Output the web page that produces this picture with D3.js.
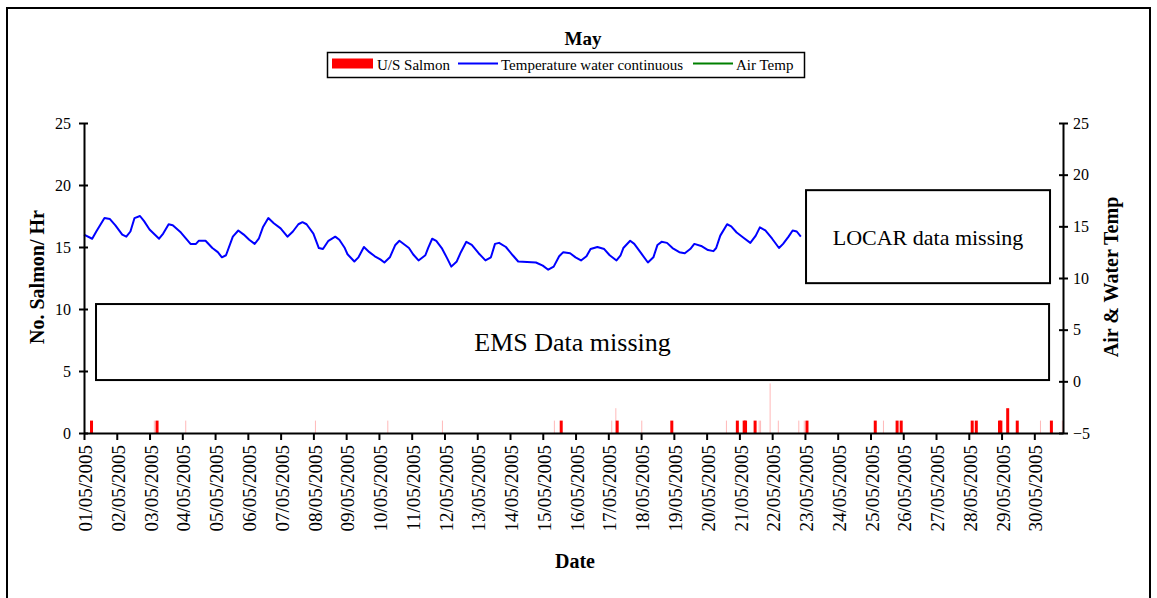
<!DOCTYPE html>
<html>
<head>
<meta charset="utf-8">
<script src="https://cdn.jsdelivr.net/npm/d3@7"></script>
<style>
  body { margin: 0; background: #fff; }
  svg { display: block; }
  text { font-family: "Liberation Serif", "Times New Roman", serif; fill: #000; }
</style>
</head>
<body>
<svg id="chart" width="1157" height="598"></svg>
<script>
// Daily tick labels along the date axis
const dayLabels = [
  "01/05/2005","02/05/2005","03/05/2005","04/05/2005","05/05/2005","06/05/2005",
  "07/05/2005","08/05/2005","09/05/2005","10/05/2005","11/05/2005","12/05/2005",
  "13/05/2005","14/05/2005","15/05/2005","16/05/2005","17/05/2005","18/05/2005",
  "19/05/2005","20/05/2005","21/05/2005","22/05/2005","23/05/2005","24/05/2005",
  "25/05/2005","26/05/2005","27/05/2005","28/05/2005","29/05/2005","30/05/2005"
];
const leftTicks = [0, 5, 10, 15, 20, 25];
const rightTicks = [-5, 0, 5, 10, 15, 20, 25];
const legendNames = ["U/S Salmon", "Temperature water continuous", "Air Temp"];

// Upstream salmon counts: hour of month (from 01/05 00:00) and fish per hour
const salmonHours  = [5, 53, 349, 390, 430, 478, 483, 484, 491, 529, 579, 595, 598, 650, 653, 670, 671, 676, 683, 708];
const salmonCounts = [1, 1,  1,   1,   1,   1,   1,   1,   1,   1,   1,   1,   1,   1,   1,   1,   1,   2,   1,   1];

// Single-hour counts that only show as hairlines at this scale
const hairHours  = [51, 74, 169, 222, 262, 344, 386, 389, 408, 470, 494, 495, 502, 508, 523, 527, 585, 700, 716];
const hairCounts = [1,  1,  1,   1,   1,   1,   1,   2,   1,   1,   1,   1,   4,   1,   1,   1,   1,   1,   1];

// Continuous water temperature (°C), sampled at the given hour of month
const waterHours = [
  0, 6, 9, 15, 19, 23, 28, 31, 34, 37, 41, 44, 48, 55, 58, 62, 65, 71, 78, 82,
  84, 89, 94, 98, 101, 104, 109, 113, 117, 121, 125, 128, 131, 135, 139, 144, 149, 153, 157, 160,
  163, 168, 172, 175, 179, 184, 187, 191, 193, 198, 201, 205, 209, 213, 217, 220, 224, 228, 231, 238,
  241, 245, 250, 252, 255, 258, 262, 266, 269, 273, 276, 280, 284, 289, 294, 298, 301, 304, 309, 314,
  318, 331, 336, 340, 344, 348, 351, 356, 360, 364, 368, 371, 376, 381, 385, 390, 393, 395, 400, 403,
  408, 413, 417, 420, 423, 427, 431, 436, 440, 444, 447, 452, 457, 461, 463, 466, 471, 474, 478, 483,
  488, 492, 495, 499, 504, 509, 512, 516, 519, 522, 525
];
const waterTemp = [
  14.2, 13.8, 14.5, 15.8, 15.7, 15.1, 14.2, 14.0, 14.5, 15.8, 16.0, 15.5, 14.7, 13.8, 14.3, 15.2, 15.1, 14.4, 13.3, 13.3,
  13.6, 13.6, 12.9, 12.5, 12.0, 12.2, 14.0, 14.6, 14.2, 13.7, 13.3, 13.8, 14.9, 15.8, 15.3, 14.8, 14.0, 14.5, 15.2, 15.4,
  15.2, 14.3, 12.9, 12.8, 13.6, 14.0, 13.7, 12.9, 12.3, 11.6, 12.0, 13.0, 12.5, 12.1, 11.8, 11.5, 12.0, 13.2, 13.6, 12.9,
  12.3, 11.7, 12.2, 12.9, 13.8, 13.6, 12.9, 11.9, 11.1, 11.6, 12.5, 13.5, 13.2, 12.4, 11.7, 12.0, 13.3, 13.4, 13.0, 12.2,
  11.6, 11.5, 11.2, 10.8, 11.1, 12.1, 12.5, 12.4, 12.0, 11.7, 12.1, 12.8, 13.0, 12.8, 12.2, 11.7, 12.2, 12.9, 13.6, 13.3,
  12.4, 11.5, 12.0, 13.2, 13.5, 13.4, 12.9, 12.5, 12.4, 12.8, 13.3, 13.1, 12.7, 12.6, 12.9, 14.1, 15.2, 15.0, 14.4, 13.9,
  13.4, 14.1, 14.9, 14.6, 13.8, 12.9, 13.3, 14.0, 14.6, 14.5, 14.0
];

// Air temperature series (no readings for this month)
const airHours = [];
const airTemp = [];

const svg = d3.select("#chart");

// Scales: hours across the month, fish counts on the left, temperature on the right
const x = d3.scaleLinear().domain([0, 717]).range([84, 1063]);
const yL = d3.scaleLinear().domain([0, 25]).range([433, 123]);
const yR = d3.scaleLinear().domain([-5, 25]).range([433, 123]);

// Outer frame
svg.append("rect")
  .attr("x", 7).attr("y", 8).attr("width", 1143).attr("height", 600)
  .attr("fill", "none").attr("stroke", "#000").attr("stroke-width", 2);

// Title
svg.append("text")
  .attr("x", 583).attr("y", 45)
  .attr("text-anchor", "middle")
  .attr("font-size", 19).attr("font-weight", "bold")
  .text("May");

// Legend
const legend = svg.append("g");
legend.append("rect")
  .attr("x", 327.5).attr("y", 52.5).attr("width", 477).attr("height", 25)
  .attr("fill", "#fff").attr("stroke", "#000").attr("stroke-width", 1.5);
const legendX = [332, 458, 693];
const legendColors = ["#ff0000", "#0000ff", "#008000"];
legendNames.forEach((name, i) => {
  if (i === 0) {
    legend.append("rect").attr("x", legendX[i]).attr("y", 58.5)
      .attr("width", 41).attr("height", 10).attr("fill", legendColors[i]);
  } else {
    legend.append("line").attr("x1", legendX[i]).attr("x2", legendX[i] + 40)
      .attr("y1", 63.5).attr("y2", 63.5)
      .attr("stroke", legendColors[i]).attr("stroke-width", 2);
  }
  legend.append("text")
    .attr("x", legendX[i] + (i === 0 ? 45 : 43)).attr("y", 70)
    .attr("font-size", 15)
    .text(name);
});

// Missing-data annotation boxes
const ems = { h0: 8.8, h1: 706.8, v0: 4.27, v1: 10.4 };
svg.append("rect")
  .attr("x", x(ems.h0)).attr("y", yL(ems.v1))
  .attr("width", x(ems.h1) - x(ems.h0)).attr("height", yL(ems.v0) - yL(ems.v1))
  .attr("fill", "#fff").attr("stroke", "#000").attr("stroke-width", 2);
svg.append("text")
  .attr("x", (x(ems.h0) + x(ems.h1)) / 2).attr("y", (yL(ems.v0) + yL(ems.v1)) / 2 + 9)
  .attr("text-anchor", "middle").attr("font-size", 26)
  .text("EMS Data missing");

const locar = { h0: 528.8, h1: 707.5, v0: 9.5, v1: 18.5 };
svg.append("rect")
  .attr("x", x(locar.h0)).attr("y", yR(locar.v1))
  .attr("width", x(locar.h1) - x(locar.h0)).attr("height", yR(locar.v0) - yR(locar.v1))
  .attr("fill", "#fff").attr("stroke", "#000").attr("stroke-width", 2);
svg.append("text")
  .attr("x", (x(locar.h0) + x(locar.h1)) / 2).attr("y", (yR(locar.v0) + yR(locar.v1)) / 2 + 8)
  .attr("text-anchor", "middle").attr("font-size", 22)
  .text("LOCAR data missing");

// Salmon bars: hairline counts first, then the visible bars on top
const hairData = hairHours.map((h, i) => ({ h, n: hairCounts[i] }));
svg.append("g").selectAll("rect").data(hairData).join("rect")
  .attr("x", d => x(d.h + 0.5) - 0.5)
  .attr("y", d => yL(d.n))
  .attr("width", 1)
  .attr("height", d => yL(0) - yL(d.n))
  .attr("fill", "#ff0000").attr("opacity", 0.28);

const salmonData = salmonHours.map((h, i) => ({ h, n: salmonCounts[i] }));
svg.append("g").selectAll("rect").data(salmonData).join("rect")
  .attr("x", d => x(d.h + 0.5) - 1.5)
  .attr("y", d => yL(d.n))
  .attr("width", 3)
  .attr("height", d => yL(0) - yL(d.n))
  .attr("fill", "#ff0000");

// Water temperature line
const water = waterHours.map((h, i) => ({ h, t: waterTemp[i] }));
svg.append("path")
  .datum(water)
  .attr("fill", "none")
  .attr("stroke", "#0000ff")
  .attr("stroke-width", 2)
  .attr("stroke-linejoin", "round")
  .attr("d", d3.line().x(d => x(d.h)).y(d => yR(d.t)));

// Air temperature line (empty)
svg.append("path")
  .datum(airHours.map((h, i) => ({ h, t: airTemp[i] })))
  .attr("fill", "none").attr("stroke", "#008000").attr("stroke-width", 2)
  .attr("d", d3.line().x(d => x(d.h)).y(d => yR(d.t)));

// Axes
function styleAxis(g) {
  g.selectAll("path.domain").attr("stroke", "#000").attr("stroke-width", 2);
  g.selectAll(".tick line").attr("stroke", "#000").attr("stroke-width", 2);
  g.selectAll(".tick text").attr("fill", "#000").attr("font-family", "Liberation Serif, serif");
}

const gLeft = svg.append("g").attr("transform", `translate(${x(0)},0)`)
  .call(d3.axisLeft(yL).tickValues(leftTicks).tickSize(5).tickSizeOuter(0).tickPadding(8))
  .call(styleAxis);
gLeft.selectAll(".tick line").attr("x1", 4);
gLeft.selectAll(".tick text").attr("font-size", 16);

const gRight = svg.append("g").attr("transform", `translate(${x(717)},0)`)
  .call(d3.axisRight(yR).tickValues(rightTicks).tickSize(5).tickSizeOuter(0).tickPadding(5))
  .call(styleAxis);
gRight.selectAll(".tick line").attr("x1", -4);
gRight.selectAll(".tick text").attr("font-size", 16);

const gBottom = svg.append("g").attr("transform", `translate(0,${yL(0)})`)
  .call(d3.axisBottom(x)
    .tickValues(dayLabels.map((_, i) => i * 24))
    .tickFormat((d, i) => dayLabels[i])
    .tickSize(7).tickSizeOuter(0))
  .call(styleAxis);
gBottom.selectAll(".tick text")
  .attr("font-size", 19)
  .attr("text-anchor", "end")
  .attr("transform", "rotate(-90)")
  .attr("x", -12).attr("y", 1).attr("dy", "0.35em");

// Axis titles
svg.append("text")
  .attr("transform", "translate(44,277) rotate(-90)")
  .attr("text-anchor", "middle").attr("font-size", 20).attr("font-weight", "bold")
  .text("No. Salmon/ Hr");
svg.append("text")
  .attr("transform", "translate(1118,277) rotate(-90)")
  .attr("text-anchor", "middle").attr("font-size", 20).attr("font-weight", "bold")
  .text("Air & Water Temp");
svg.append("text")
  .attr("x", 575).attr("y", 568)
  .attr("text-anchor", "middle").attr("font-size", 20).attr("font-weight", "bold")
  .text("Date");
</script>
</body>
</html>
